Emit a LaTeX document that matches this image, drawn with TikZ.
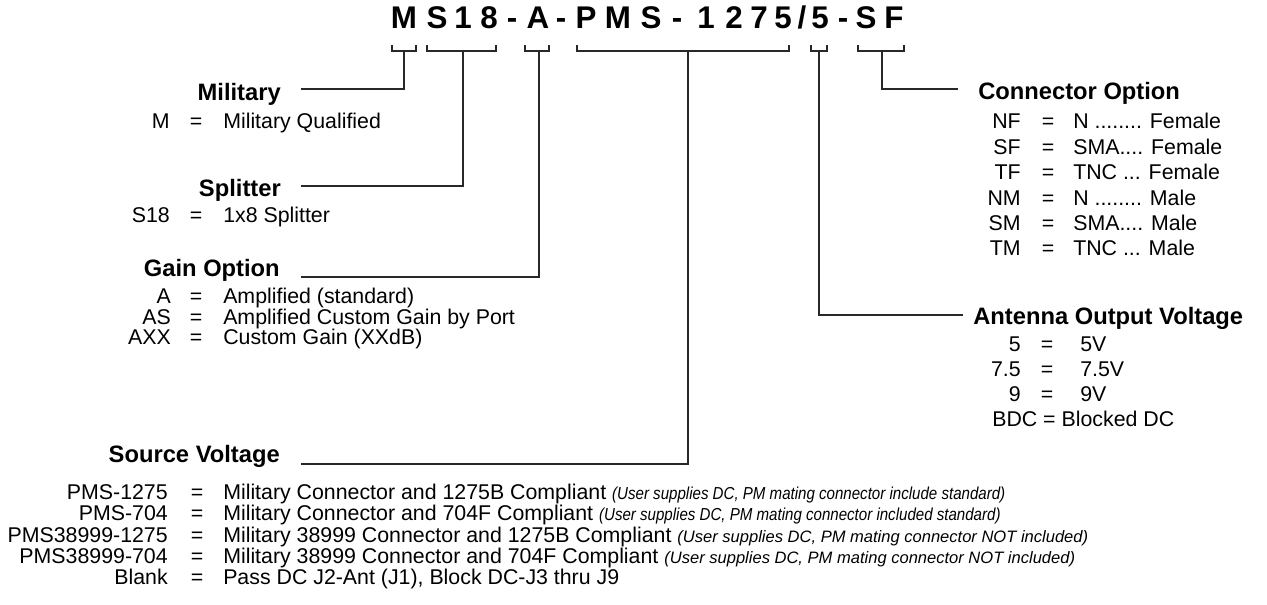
\documentclass[tikz,border=0pt]{standalone}
\usepackage{fontspec}
\setmainfont{Liberation Sans}
\newfontfamily\narrowfont[FakeStretch=0.87]{Liberation Sans}
\usetikzlibrary{positioning}
\definecolor{linea}{RGB}{40,40,40}
\tikzset{
    conn/.style={-, linea, line width=0.9pt},
    letter/.style={font=\fontsize{23.5}{26}\selectfont\bfseries, inner sep=0pt, anchor=base},
    headR/.style={font=\fontsize{17.8}{20}\selectfont\bfseries, inner sep=0pt, anchor=base east},
    headL/.style={font=\fontsize{17.8}{20}\selectfont\bfseries, inner sep=0pt, anchor=base west},
    code/.style={font=\fontsize{16}{18}\selectfont, inner sep=0pt, anchor=base east},
    eqs/.style={font=\fontsize{16}{18}\selectfont, inner sep=0pt, anchor=base},
    val/.style={font=\fontsize{16}{18}\selectfont, inner sep=0pt, anchor=base west},
}
% remarks after the source voltage entries
\newcommand{\note}[1]{{\narrowfont\itshape\fontsize{13}{15}\selectfont #1}}
\newcommand{\notesm}[1]{{\itshape\fontsize{12.4}{15}\selectfont #1}}

\begin{document}
\begin{tikzpicture}[x=0.75pt, y=-0.75pt]
    \useasboundingbox (0,0) rectangle (1267,605);

    % part number, one letter at a time
    \foreach \x/\c [count=\i] in {404/M, 437/S, 463/1, 489/8, 512/-, 538/A, 561/-,
        586/P, 618/M, 651/S, 677/-, 706/1, 734/2, 759/7, 783/5, 802/{/}, 820/5,
        843/-, 866/S, 894/F}
        \node[letter] (pn\i) at (\x,29) {\c};

    % brackets under the fields
    \foreach \a/\b/\s/\n in {392/416/404/mil, 427/496/463/spl, 525/549/539/gain,
        577/789/688/src, 811/827/819/ant, 858/904/882/con} {
        \draw[conn] (\a,45) -- (\a,51) -- (\b,51) -- (\b,45);
        \coordinate (b\n) at (\s,51);
    }

    % headings
    \node[headR] (hMil)  at (281,101) {Military};
    \node[headR] (hSpl)  at (281,197) {Splitter};
    \node[headR] (hGain) at (280,277) {Gain Option};
    \node[headR] (hSrc)  at (280,463) {Source Voltage};
    \node[headL] (hCon)  at (978,100) {Connector Option};
    \node[headL] (hAnt)  at (973,325) {Antenna Output Voltage};

    \coordinate (lMil)  at (301,89);
    \coordinate (lSpl)  at (301,186);
    \coordinate (lGain) at (301,277);
    \coordinate (lSrc)  at (301,464);
    \coordinate (lCon)  at (958,89);
    \coordinate (lAnt)  at (963,315);

    \draw[conn] (bmil) |- (lMil);
    \draw[conn] (bspl) |- (lSpl);
    \draw[conn] (bgain) |- (lGain);
    \draw[conn] (bsrc) |- (lSrc);
    \draw[conn] (bcon) |- (lCon);
    \draw[conn] (bant) |- (lAnt);

    % military
    \node[code] (mil1) at (170,129) {M};
    \node[eqs]  (milEq1) at (196,129) {=};
    \node[val]  (milVal1) at (223,129) {Military Qualified};

    % splitter
    \node[code] (spl1) at (170,223) {S18};
    \node[eqs]  (splEq1) at (196,223) {=};
    \node[val]  (splVal1) at (223,223) {1x8 Splitter};

    % gain
    \foreach \c/\v [count=\i] in {A/{Amplified (standard)}, AS/{Amplified Custom Gain by Port},
        AXX/{Custom Gain (XXdB)}} {
        \node[code] (gain\i) at (171,{304+20.5*(\i-1)}) {\c};
        \node[eqs]  (gainEq\i) at (196,{304+20.5*(\i-1)}) {=};
        \node[val]  (gainVal\i) at (223,{304+20.5*(\i-1)}) {\v};
    }

    % connector
    \foreach \c/\v [count=\i] in {NF/{N ........ Female}, SF/{SMA.... Female}, TF/{TNC ... Female},
        NM/{N ........ Male}, SM/{SMA.... Male}, TM/{TNC ... Male}} {
        \node[code] (con\i) at (1021,{129+25.4*(\i-1)}) {\c};
        \node[eqs]  (conEq\i) at (1048,{129+25.4*(\i-1)}) {=};
        \node[val]  (conVal\i) at (1073,{129+25.4*(\i-1)}) {\v};
    }

    % antenna voltage
    \foreach \c/\v [count=\i] in {5/5V, 7.5/7.5V, 9/9V} {
        \node[code] (ant\i) at (1021,{352+25*(\i-1)}) {\c};
        \node[eqs]  (antEq\i) at (1047,{352+25*(\i-1)}) {=};
        \node[val]  (antVal\i) at (1080,{352+25*(\i-1)}) {\v};
    }
    \node[val] (ant4) at (992,427) {BDC = Blocked DC};

    % source voltage
    \node[code] (src1) at (168,500) {PMS-1275};
    \node[eqs]  (srcEq1) at (197,500) {=};
    \node[val]  (srcVal1) at (223,500) {Military Connector and 1275B Compliant \note{(User supplies DC, PM mating connector include standard)}};
    \node[code] (src2) at (168,521) {PMS-704};
    \node[eqs]  (srcEq2) at (197,521) {=};
    \node[val]  (srcVal2) at (223,521) {Military Connector and 704F Compliant \note{(User supplies DC, PM mating connector included standard)}};
    \node[code] (src3) at (168,542) {PMS38999-1275};
    \node[eqs]  (srcEq3) at (197,542) {=};
    \node[val]  (srcVal3) at (223,542) {Military 38999 Connector and 1275B Compliant \notesm{(User supplies DC, PM mating connector NOT included)}};
    \node[code] (src4) at (168,563) {PMS38999-704};
    \node[eqs]  (srcEq4) at (197,563) {=};
    \node[val]  (srcVal4) at (223,563) {Military 38999 Connector and 704F Compliant \notesm{(User supplies DC, PM mating connector NOT included)}};
    \node[code] (src5) at (168,584) {Blank};
    \node[eqs]  (srcEq5) at (197,584) {=};
    \node[val]  (srcVal5) at (223,584) {Pass DC J2-Ant (J1), Block DC-J3 thru J9};
\end{tikzpicture}
\end{document}
